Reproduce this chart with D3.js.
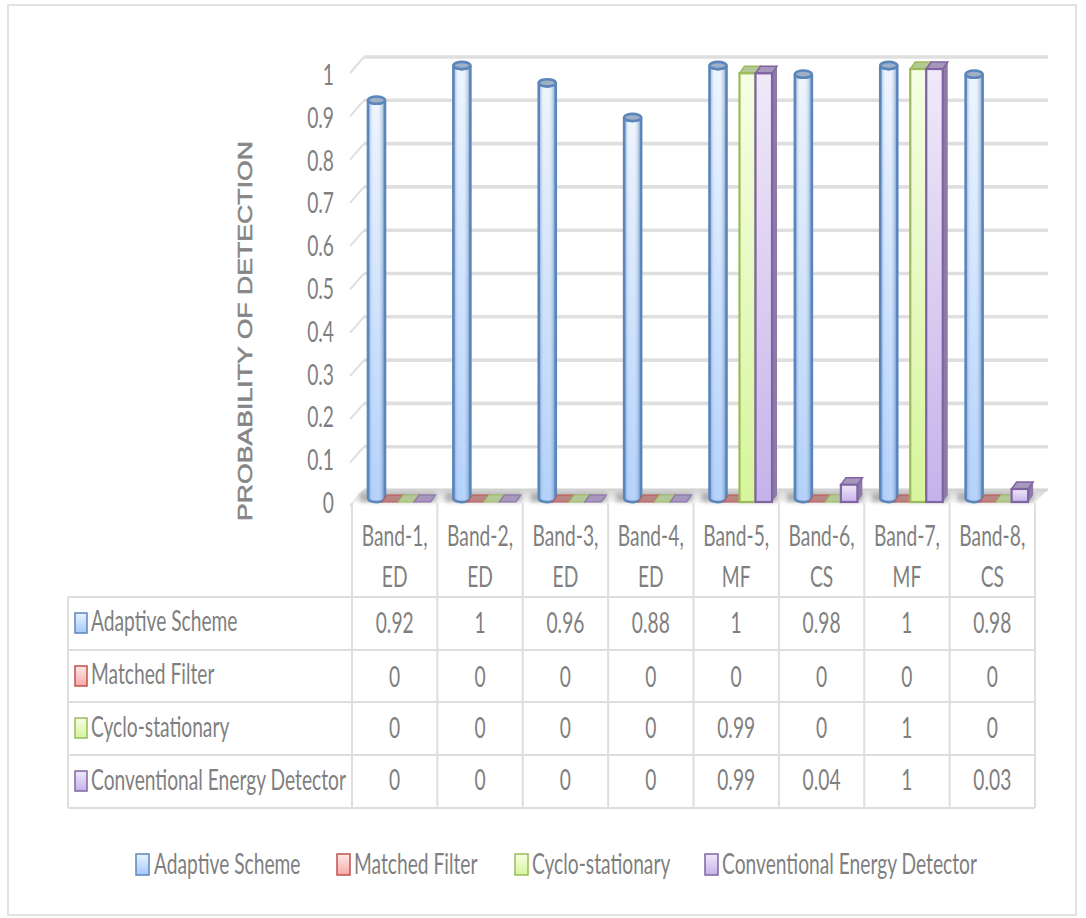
<!DOCTYPE html>
<html>
<head>
<meta charset="utf-8">
<script src="https://cdn.jsdelivr.net/npm/d3@7/dist/d3.min.js"></script>
<style>
html,body{margin:0;padding:0;background:#fff;}
svg{display:block;}
text{font-family:Lato,"Open Sans",sans-serif;fill:#7f7f7f;}
</style>
</head>
<body>
<svg id="chart" width="1086" height="918"></svg>
<script>
// Detection probability per band, one array per detector
const categories = ["Band-1, ED","Band-2, ED","Band-3, ED","Band-4, ED","Band-5, MF","Band-6, CS","Band-7, MF","Band-8, CS"];
const seriesNames = ["Adaptive Scheme","Matched Filter","Cyclo-stationary","Conventional Energy Detector"];
const adaptiveScheme = [0.92,1,0.96,0.88,1,0.98,1,0.98];
const matchedFilter = [0,0,0,0,0,0,0,0];
const cycloStationary = [0,0,0,0,0.99,0,1,0];
const conventionalDetector = [0,0,0,0,0.99,0.04,1,0.03];
const seriesValues = [adaptiveScheme,matchedFilter,cycloStationary,conventionalDetector];
const strokes = ["#5b86bb","#c0504d","#9bbb59","#8064a2"];
const paleFills = ["#eaf3ff","#ffe9e8","#f5fee4","#f0e9f9"];
const deepFills = ["#a4c8fb","#f7a8a5","#d6f59c","#c6b2ea"];
const topFills = ["#9fb0c6","#b98583","#b4c796","#a797bd"];
const sideFills = ["#7f93ad","#a86a68","#93a874","#8d7aa6"];

const svg = d3.select("#chart");
const defs = svg.append("defs");

seriesNames.forEach((_, i) => {
  const g = defs.append("linearGradient").attr("id","fill"+i).attr("x1",0).attr("y1",0).attr("x2",0).attr("y2",1);
  g.append("stop").attr("offset","0%").attr("stop-color",paleFills[i]);
  g.append("stop").attr("offset","100%").attr("stop-color",deepFills[i]);
});
const round = defs.append("linearGradient").attr("id","round").attr("x1",0).attr("y1",0).attr("x2",1).attr("y2",0);
[[0,"#3f6ea8",0.6],[0.3,"#ffffff",0.15],[0.6,"#ffffff",0.2],[1,"#3f6ea8",0.65]].forEach(s =>
  round.append("stop").attr("offset",s[0]).attr("stop-color",s[1]).attr("stop-opacity",s[2]));
const floorFill = defs.append("linearGradient").attr("id","floor").attr("x1",0).attr("y1",0).attr("x2",0).attr("y2",1);
floorFill.append("stop").attr("offset","0%").attr("stop-color","#d2d2d2");
floorFill.append("stop").attr("offset","100%").attr("stop-color","#f8f8f8");
defs.append("filter").attr("id","soft").attr("x","-20%").attr("y","-100%").attr("width","140%").attr("height","300%")
  .append("feGaussianBlur").attr("stdDeviation",2);

// Outer frame
svg.append("rect").attr("x",8).attr("y",5).attr("width",1068).attr("height",910)
  .attr("fill","#fff").attr("stroke","#e2e2e2").attr("stroke-width",2);

// Scales: front plane of the boxes, back wall of the plot, and axis label baselines
const yFront = d3.scaleLinear().domain([0,1]).range([502,69]);
const yWall = d3.scaleLinear().domain([0,1]).range([490,57]);
const yLabel = d3.scaleLinear().domain([0,1]).range([513,85]);
const xBand = d3.scaleBand().domain(categories).range([352,1035]);
const tableLeft = 68;

const depthX = 5, depthY = 7;
const barOffset = [16,30,46,62], barWidth = [17,16,16,16.5];
const textScaleX = 0.96, textScaleY = 1.42;

// Scaled text: the labels are tall and narrow
function label(parent, str, x, y, anchor){
  return parent.append("text").text(str)
    .attr("text-anchor",anchor)
    .attr("font-size",20)
    .attr("transform",`translate(${x},${y}) scale(${textScaleX},${textScaleY})`);
}

// Back wall gridlines with short diagonal stubs towards the axis
const ticks = yWall.ticks(10);
const grid = svg.append("g").attr("stroke","#dfdfdf").attr("stroke-width",3.6).attr("fill","none");
grid.selectAll("line.h").data(ticks).join("line").attr("class","h")
  .attr("x1",364).attr("x2",1048).attr("y1",d=>yWall(d)).attr("y2",d=>yWall(d));
grid.selectAll("line.d").data(ticks).join("line").attr("class","d").attr("stroke-width",2)
  .attr("x1",364).attr("x2",350).attr("y1",d=>yWall(d)).attr("y2",d=>yWall(d)+16);

// Floor
svg.append("path").attr("fill","url(#floor)")
  .attr("d",`M352,503 L366,489 L1048,489 L1035,503 Z`);

// Tick labels
const tickGroup = svg.append("g");
ticks.forEach(t => label(tickGroup, d3.format("~g")(t), 334, yLabel(t), "end"));

// Axis title
svg.append("text").text("PROBABILITY OF DETECTION")
  .attr("font-size",20)
  .attr("text-anchor","middle")
  .attr("textLength",380).attr("lengthAdjust","spacingAndGlyphs")
  .attr("transform","translate(252,331) rotate(-90)")
  .style("font-family","'Liberation Sans',sans-serif").style("fill","#858585")
  .style("stroke","#858585").style("stroke-width",0.5);

// Bars, drawn category by category so nearer series overlap correctly
categories.forEach((cat, c) => {
  const col = xBand(cat);
  const g = svg.append("g");
  // soft contact shadow on the floor
  g.append("rect").attr("x",col+8).attr("y",493).attr("width",76).attr("height",9)
    .attr("fill","#8c8c8c").attr("opacity",0.6).attr("filter","url(#soft)");

  seriesValues.forEach((vals, s) => {
    const v = vals[c];
    const x0 = col + barOffset[s], w = barWidth[s];
    if (s === 0) {
      // cylinder for the adaptive scheme
      const rx = w/2, ry = 3.6;
      const top = yFront(v) - depthY/2, base = yFront(0) - depthY/2;
      const body = `M${x0},${top} V${base} A${rx},${ry} 0 0 0 ${x0+w},${base} V${top} A${rx},${ry} 0 0 1 ${x0},${top} Z`;
      g.append("path").attr("d",body).attr("fill","url(#fill0)");
      g.append("path").attr("d",body).attr("fill","url(#round)").attr("stroke",strokes[0]).attr("stroke-width",2.6);
      g.append("ellipse").attr("cx",x0+rx).attr("cy",top).attr("rx",rx).attr("ry",ry)
        .attr("fill",topFills[0]).attr("stroke",strokes[0]).attr("stroke-width",2.6);
    } else {
      // box with a top and a right face
      const yTop = yFront(v), yBase = yFront(0);
      g.append("path").attr("fill",sideFills[s])
        .attr("d",`M${x0+w},${yTop} l${depthX},${-depthY} V${yBase-depthY} l${-depthX},${depthY} Z`);
      g.append("path").attr("fill",topFills[s]).attr("stroke",strokes[s]).attr("stroke-width",1.5).attr("stroke-opacity",v>0?1:0.6)
        .attr("d",`M${x0},${yTop} l${depthX},${-depthY} h${w} l${-depthX},${depthY} Z`);
      g.append("rect").attr("x",x0).attr("y",yTop).attr("width",w).attr("height",yBase-yTop)
        .attr("fill",`url(#fill${s})`).attr("stroke",strokes[s]).attr("stroke-width",v>0?2.2:3.5);
    }
  });
});

// Data table: header cells, series rows and value cells
const rowLines = [597,650,702,755,808];
const colLines = xBand.domain().map(d=>xBand(d)).concat(xBand.range()[1]);
const table = svg.append("g").attr("stroke","#dedede").attr("stroke-width",2);
table.selectAll("line.r").data(rowLines).join("line").attr("class","r")
  .attr("x1",tableLeft).attr("x2",1035).attr("y1",d=>d).attr("y2",d=>d);
table.selectAll("line.c").data(colLines).join("line").attr("class","c")
  .attr("x1",d=>d).attr("x2",d=>d).attr("y1",503).attr("y2",808);
table.append("line").attr("x1",tableLeft).attr("x2",tableLeft).attr("y1",597).attr("y2",808);

const cells = svg.append("g");
categories.forEach(cat => {
  const cx = xBand(cat) + xBand.bandwidth()/2;
  const parts = cat.split(" ");
  label(cells, parts[0], cx, 546, "middle");
  label(cells, parts[1], cx, 587, "middle");
});
const rowBase = [633,687,738,790];
const rowTextBase = [631,684,737,790];
const fmt = d3.format("~g");
seriesNames.forEach((name, s) => {
  cells.append("rect").attr("x",75).attr("y",rowLines[s]+16).attr("width",12).attr("height",20)
    .attr("fill",`url(#fill${s})`).attr("stroke",strokes[s]).attr("stroke-width",1.5);
  label(cells, name, 91, rowTextBase[s], "start");
  seriesValues[s].forEach((v, c) => {
    label(cells, fmt(v), xBand(categories[c]) + xBand.bandwidth()/2, rowBase[s], "middle");
  });
});

// Legend below the table
const legendKeys = [136,337,515,705];
const legendText = [154,354,532,722];
seriesNames.forEach((name, s) => {
  cells.append("rect").attr("x",legendKeys[s]).attr("y",854).attr("width",13).attr("height",21)
    .attr("fill",`url(#fill${s})`).attr("stroke",strokes[s]).attr("stroke-width",1.5);
  label(cells, name, legendText[s], 874, "start");
});
</script>
</body>
</html>
